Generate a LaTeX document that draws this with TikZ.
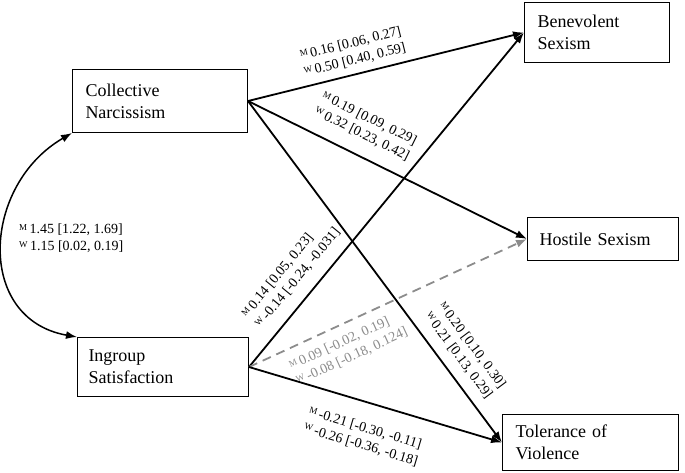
\documentclass[tikz,border=0pt]{standalone}
\usepackage{fontspec}
\setmainfont{Liberation Serif}
\usetikzlibrary{arrows.meta}
\definecolor{nsgray}{gray}{0.55}
\newcommand{\grp}[1]{\raisebox{3pt}{\fontsize{9}{9}\selectfont #1}\,}

\begin{document}
\begin{tikzpicture}[x=1pt,y=-1pt,>={Latex[length=11pt,width=8pt]}]
        \tikzstyle{box}=[draw,line width=1pt,inner ysep=0pt,anchor=north west,align=left,font=\fontsize{18}{22}\selectfont]
        \tikzstyle{link}=[->,line width=1.8pt]
        \tikzstyle{est}=[sloped,align=left,inner sep=1pt,font=\fontsize{14}{17}\selectfont]
        \useasboundingbox (0,0) rectangle (685,472);
        % predictors
        \node[box,inner xsep=13pt,text width=149pt,minimum height=63pt] (cn) at (72,69) {Collective\\Narcissism};
        \node[box,inner xsep=11pt,text width=149pt,minimum height=59pt] (is) at (77,337) {Ingroup\\Satisfaction};
        % outcomes
        \node[box,inner xsep=13pt,text width=119pt,minimum height=60pt] (bs) at (524,2) {Benevolent\\Sexism};
        \node[box,inner xsep=12pt,text width=127pt,minimum height=43pt] (hs) at (527,217) {Hostile Sexism};
        \node[box,inner xsep=13pt,text width=150pt,minimum height=56pt] (tv) at (502,414) {Tolerance of\\Violence};
        % covariance
        \draw[<->,line width=1.5pt] (cn.south west) .. controls +(-90,52) and +(-102,-18) .. (is.north west);
        \node[anchor=west,align=left,inner sep=0pt,font=\fontsize{14}{17}\selectfont] (cov) at (19,238) {\grp{M}1.45 [1.22, 1.69]\\\grp{W}1.15 [0.02, 0.19]};
        % paths
        \draw[link] (cn.east) -- node[est,pos=.4,above=6pt] (lcb) {\grp{M}0.16 [0.06, 0.27]\\\grp{W}0.50 [0.40, 0.59]} (bs.west);
        \draw[link] (cn.east) -- node[est,pos=.375,above=13pt] (lch) {\grp{M}0.19 [0.09, 0.29]\\\grp{W}0.32 [0.23, 0.42]} (hs.west);
        \draw[link] (cn.east) -- node[est,pos=.775,above=9pt] (lct) {\grp{M}0.20 [0.10, 0.30]\\\grp{W}0.21 [0.13, 0.29]} (tv.west);
        \draw[link] (is.east) -- node[est,pos=.23,above=11pt] (lib) {\grp{M}0.14 [0.05, 0.23]\\\grp{W}-0.14 [-0.24, -0.031]} (bs.west);
        \draw[link,nsgray,dash pattern=on 9pt off 6pt] (is.east) -- node[est,pos=.32,below=9pt] (lih) {\grp{M}0.09 [-0.02, 0.19]\\\grp{W}-0.08 [-0.18, 0.124]} (hs.west);
        \draw[link] (is.east) -- node[est,pos=.49,below=18pt] (lit) {\grp{M}-0.21 [-0.30, -0.11]\\\grp{W}-0.26 [-0.36, -0.18]} (tv.west);
\end{tikzpicture}
\end{document}
